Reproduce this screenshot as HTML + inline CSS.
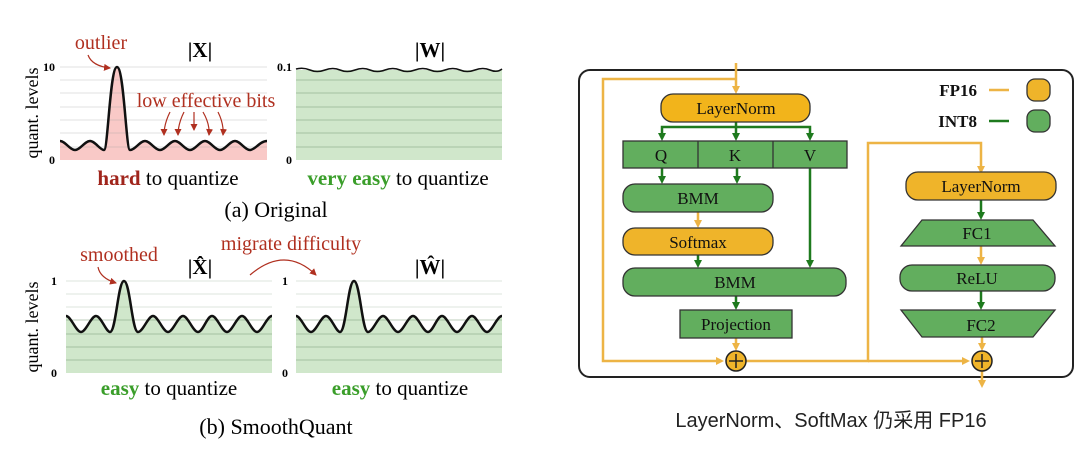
<!DOCTYPE html>
<html><head><meta charset="utf-8"><style>
html,body{margin:0;padding:0;background:#fff;}
svg{display:block;}
.s{font-family:"Liberation Serif",serif;}
</style></head><body>
<svg width="1092" height="449" viewBox="0 0 1092 449" xmlns="http://www.w3.org/2000/svg">
<defs>
<marker id="ag" markerWidth="8" markerHeight="8" refX="4" refY="4" orient="auto" markerUnits="userSpaceOnUse"><path d="M0,0 L8,4 L0,8 Z" fill="#1E7A1E"/></marker>
<marker id="ao" markerWidth="8" markerHeight="8" refX="4" refY="4" orient="auto" markerUnits="userSpaceOnUse"><path d="M0,0 L8,4 L0,8 Z" fill="#EDB445"/></marker>
<marker id="ar" markerWidth="7" markerHeight="7" refX="6" refY="3.5" orient="auto" markerUnits="userSpaceOnUse"><path d="M0,0 L7,3.5 L0,7 Z" fill="#B03020"/></marker>
</defs>
<g class="s">
<!-- Plot 1 -->
<path d="M60,141 C65,141 70,150 75,150 C80,150 85,141 90,141 C95,141 100,150 104,150 C108,150 110,67 117,67 C124,67 126,150 130,150 C135,150 140,141 145,141 C150,141 155,150 160,150 C165,150 170,141 175,141 C180,141 185,150 190,150 C195,150 200,141 205,141 C210,141 215,150 220,150 C225,150 230,141 235,141 C240,141 245,150 250,150 C255,150 260,141 267,141 L267,160 L60,160 Z" fill="#F9C9C7"/>
<g stroke="#999" stroke-opacity="0.3" stroke-width="1">
<line x1="60" y1="67" x2="267" y2="67"/><line x1="60" y1="80" x2="267" y2="80"/><line x1="60" y1="93" x2="267" y2="93"/><line x1="60" y1="107" x2="267" y2="107"/><line x1="60" y1="120" x2="267" y2="120"/><line x1="60" y1="133" x2="267" y2="133"/><line x1="60" y1="147" x2="267" y2="147"/>
</g>
<path d="M60,141 C65,141 70,150 75,150 C80,150 85,141 90,141 C95,141 100,150 104,150 C108,150 110,67 117,67 C124,67 126,150 130,150 C135,150 140,141 145,141 C150,141 155,150 160,150 C165,150 170,141 175,141 C180,141 185,150 190,150 C195,150 200,141 205,141 C210,141 215,150 220,150 C225,150 230,141 235,141 C240,141 245,150 250,150 C255,150 260,141 267,141" fill="none" stroke="#111" stroke-width="2.5"/>
<text x="55" y="71" font-size="12" font-weight="bold" text-anchor="end">10</text>
<text x="55" y="164" font-size="12" font-weight="bold" text-anchor="end">0</text>
<text transform="translate(38,113) rotate(-90)" font-size="18" text-anchor="middle">quant. levels</text>
<text x="200" y="57" font-size="21" font-weight="bold" text-anchor="middle">|X|</text>
<text x="101" y="49" font-size="20" fill="#B03020" text-anchor="middle">outlier</text>
<path d="M88,55 Q92,66 110,68" fill="none" stroke="#B03020" stroke-width="1.2" marker-end="url(#ar)"/>
<text x="206" y="107" font-size="20" fill="#B03020" text-anchor="middle">low effective bits</text>
<g fill="none" stroke="#B03020" stroke-width="1.2">
<path d="M170,112 Q164,124 164,135" marker-end="url(#ar)"/><path d="M184,112 Q178,124 178,135" marker-end="url(#ar)"/><path d="M194,112 L194,130" marker-end="url(#ar)"/><path d="M203,112 Q210,124 209,135" marker-end="url(#ar)"/><path d="M218,112 Q224,124 223,135" marker-end="url(#ar)"/>
</g>
<text x="168" y="185" font-size="21" text-anchor="middle"><tspan fill="#A0251C" font-weight="bold">hard</tspan> to quantize</text>
<!-- Plot W -->
<rect x="296" y="70" width="206" height="90" fill="#D0E7CB"/>
<g stroke="#7A9A78" stroke-opacity="0.5" stroke-width="1">
<line x1="296" y1="80" x2="502" y2="80"/><line x1="296" y1="93" x2="502" y2="93"/><line x1="296" y1="107" x2="502" y2="107"/><line x1="296" y1="120" x2="502" y2="120"/><line x1="296" y1="133" x2="502" y2="133"/><line x1="296" y1="147" x2="502" y2="147"/>
</g>
<path d="M296,69 Q303,67 310,70 T325,70 T340,70 T355,70 T370,70 T385,70 T400,70 T415,70 T430,70 T445,70 T460,70 T475,70 T490,70 T502,69" fill="none" stroke="#111" stroke-width="1.5"/>
<text x="292" y="71" font-size="12" font-weight="bold" text-anchor="end">0.1</text>
<text x="292" y="164" font-size="12" font-weight="bold" text-anchor="end">0</text>
<text x="430" y="57" font-size="21" font-weight="bold" text-anchor="middle">|W|</text>
<text x="398" y="185" font-size="21" text-anchor="middle"><tspan fill="#3A9E2A" font-weight="bold">very easy</tspan> to quantize</text>
<text x="276" y="217" font-size="22" text-anchor="middle">(a) Original</text>
<!-- Plot 2 -->
<g id="p2">
<path d="M66,316 C71,316 76,332 81,332 C86,332 91,316 96,316 C101,316 106,332 110,332 C116,332 118,281 124,281 C130,281 132,332 138,332 C143,332 148,316 153,316 C158,316 163,332 168,332 C173,332 178,316 183,316 C188,316 193,332 198,332 C203,332 207,316 212,316 C217,316 222,332 227,332 C232,332 237,316 242,316 C247,316 252,332 257,332 C262,332 267,316 272,316 L272,373 L66,373 Z" fill="#D0E7CB"/>
<g stroke="#7A9A78" stroke-opacity="0.5" stroke-width="1">
<line x1="66" y1="281" x2="272" y2="281" stroke-opacity="0.25"/><line x1="66" y1="294" x2="272" y2="294" stroke-opacity="0.25"/><line x1="66" y1="307" x2="272" y2="307" stroke-opacity="0.25"/><line x1="66" y1="320" x2="272" y2="320"/><line x1="66" y1="334" x2="272" y2="334"/><line x1="66" y1="347" x2="272" y2="347"/><line x1="66" y1="360" x2="272" y2="360"/>
</g>
<path d="M66,316 C71,316 76,332 81,332 C86,332 91,316 96,316 C101,316 106,332 110,332 C116,332 118,281 124,281 C130,281 132,332 138,332 C143,332 148,316 153,316 C158,316 163,332 168,332 C173,332 178,316 183,316 C188,316 193,332 198,332 C203,332 207,316 212,316 C217,316 222,332 227,332 C232,332 237,316 242,316 C247,316 252,332 257,332 C262,332 267,316 272,316" fill="none" stroke="#111" stroke-width="2.5"/>
</g>
<use href="#p2" transform="translate(230,0)"/>
<text x="57" y="285" font-size="12" font-weight="bold" text-anchor="end">1</text>
<text x="57" y="377" font-size="12" font-weight="bold" text-anchor="end">0</text>
<text x="288" y="285" font-size="12" font-weight="bold" text-anchor="end">1</text>
<text x="288" y="377" font-size="12" font-weight="bold" text-anchor="end">0</text>
<text transform="translate(38,327) rotate(-90)" font-size="18" text-anchor="middle">quant. levels</text>
<text x="200" y="274" font-size="21" font-weight="bold" text-anchor="middle">|X̂|</text>
<text x="430" y="274" font-size="21" font-weight="bold" text-anchor="middle">|Ŵ|</text>
<text x="119" y="261" font-size="20" fill="#B03020" text-anchor="middle">smoothed</text>
<path d="M98,267 Q100,278 116,283" fill="none" stroke="#B03020" stroke-width="1.2" marker-end="url(#ar)"/>
<text x="291" y="250" font-size="20" fill="#B03020" text-anchor="middle">migrate difficulty</text>
<path d="M250,275 Q285,245 316,275" fill="none" stroke="#B03020" stroke-width="1.2" marker-end="url(#ar)"/>
<text x="169" y="395" font-size="21" text-anchor="middle"><tspan fill="#3A9E2A" font-weight="bold">easy</tspan> to quantize</text>
<text x="400" y="395" font-size="21" text-anchor="middle"><tspan fill="#3A9E2A" font-weight="bold">easy</tspan> to quantize</text>
<text x="276" y="434" font-size="22" text-anchor="middle">(b) SmoothQuant</text>
</g>

<!-- Right diagram -->
<g class="s">
<rect x="579" y="70" width="494" height="307" rx="11" fill="#fff" stroke="#222" stroke-width="2"/>
<g fill="none" stroke="#EDB445" stroke-width="2.5">
<line x1="736" y1="63" x2="736" y2="90" marker-end="url(#ao)"/>
<polyline points="736,79 603,79 603,361 720,361" marker-end="url(#ao)"/>
<line x1="698" y1="212" x2="698" y2="224" marker-end="url(#ao)"/>
<line x1="736" y1="338" x2="736" y2="347" marker-end="url(#ao)"/>
<polyline points="746,361 868,361 868,143 981,143 981,168" />
<line x1="868" y1="361" x2="966" y2="361" marker-end="url(#ao)"/>
<line x1="981" y1="169" x2="981" y2="170" marker-end="url(#ao)"/>
<line x1="981" y1="246" x2="981" y2="261" marker-end="url(#ao)"/>
<line x1="982" y1="337" x2="982" y2="347" marker-end="url(#ao)"/>
<line x1="982" y1="371" x2="982" y2="384" marker-end="url(#ao)"/>
<line x1="989" y1="90" x2="1009" y2="90"/>
</g>
<g fill="none" stroke="#1E7A1E" stroke-width="2.5">
<line x1="736" y1="122" x2="736" y2="137" marker-end="url(#ag)"/>
<polyline points="662,137 662,127 810,127 810,137"/>
<line x1="662" y1="135" x2="662" y2="137" marker-end="url(#ag)"/>
<line x1="810" y1="135" x2="810" y2="137" marker-end="url(#ag)"/>
<line x1="662" y1="168" x2="662" y2="180" marker-end="url(#ag)"/>
<line x1="737" y1="168" x2="737" y2="180" marker-end="url(#ag)"/>
<line x1="698" y1="255" x2="698" y2="264" marker-end="url(#ag)"/>
<line x1="810" y1="168" x2="810" y2="264" marker-end="url(#ag)"/>
<line x1="736" y1="296" x2="736" y2="306" marker-end="url(#ag)"/>
<line x1="981" y1="200" x2="981" y2="216" marker-end="url(#ag)"/>
<line x1="981" y1="291" x2="981" y2="306" marker-end="url(#ag)"/>
<line x1="989" y1="121" x2="1009" y2="121"/>
</g>
<g stroke="#333" stroke-width="1.3">
<rect x="661" y="94" width="149" height="28" rx="12" fill="#F2B41B"/>
<rect x="623" y="141" width="224" height="27" fill="#62AE5E"/>
<line x1="698" y1="141" x2="698" y2="168"/><line x1="773" y1="141" x2="773" y2="168"/>
<rect x="623" y="184" width="150" height="28" rx="12" fill="#62AE5E"/>
<rect x="623" y="228" width="150" height="27" rx="12" fill="#EFB42A"/>
<rect x="623" y="268" width="223" height="28" rx="12" fill="#62AE5E"/>
<rect x="680" y="310" width="112" height="28" fill="#62AE5E"/>
<rect x="906" y="172" width="150" height="28" rx="12" fill="#EFB42A"/>
<polygon points="922,220 1033,220 1055,246 901,246" fill="#62AE5E"/>
<rect x="900" y="265" width="155" height="26" rx="12" fill="#62AE5E"/>
<polygon points="901,310 1055,310 1033,337 922,337" fill="#62AE5E"/>
<rect x="1027" y="79" width="23" height="22" rx="8" fill="#EFB42A"/>
<rect x="1027" y="110" width="23" height="22" rx="8" fill="#62AE5E"/>
</g>
<g stroke="#222" stroke-width="1.5">
<circle cx="736" cy="361" r="10" fill="#EFB42A"/><line x1="729" y1="361" x2="743" y2="361"/><line x1="736" y1="354" x2="736" y2="368"/>
<circle cx="982" cy="361" r="10" fill="#EFB42A"/><line x1="975" y1="361" x2="989" y2="361"/><line x1="982" y1="354" x2="982" y2="368"/>
</g>
<g font-size="17" text-anchor="middle" fill="#111">
<text x="736" y="114">LayerNorm</text>
<text x="661" y="161">Q</text><text x="735" y="161">K</text><text x="810" y="161">V</text>
<text x="698" y="204">BMM</text>
<text x="698" y="248">Softmax</text>
<text x="735" y="288">BMM</text>
<text x="736" y="330">Projection</text>
<text x="981" y="192">LayerNorm</text>
<text x="977" y="239">FC1</text>
<text x="977" y="284">ReLU</text>
<text x="981" y="331">FC2</text>
<text x="977" y="96" font-weight="bold" text-anchor="end">FP16</text>
<text x="977" y="127" font-weight="bold" text-anchor="end">INT8</text>
</g>
</g>
<text x="831" y="427" font-family="Liberation Sans, Noto Sans CJK SC, sans-serif" font-size="20" text-anchor="middle" fill="#222">LayerNorm、SoftMax 仍采用 FP16</text>
</svg>
</body></html>
